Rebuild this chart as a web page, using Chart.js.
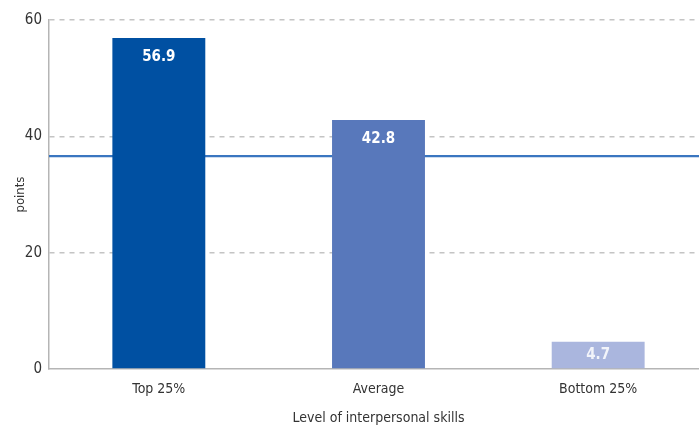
<!DOCTYPE html>
<html>
<head>
<meta charset="utf-8">
<script src="https://cdn.jsdelivr.net/npm/chart.js@4"></script>
<style>
  html, body { margin: 0; padding: 0; background: #fff; overflow: hidden; }
  #wrap { width: 710px; height: 427px; }
</style>
</head>
<body>
<div id="wrap"><canvas id="skills-chart" width="710" height="427"></canvas></div>
<script>
const categories = ['Top 25%', 'Average', 'Bottom 25%'];
const points = [56.9, 42.8, 4.7];
const barColors = ['#0050a2', '#5878bb', '#aab6de'];
const referenceValue = 36.6;
const yTicks = [0, 20, 40, 60];

const FONT = '"Liberation Sans Narrow", "DejaVu Sans Condensed", "Roboto", sans-serif';

// value labels drawn inside the top of each bar
const barLabels = {
    id: 'barLabels',
    afterDatasetsDraw(chart) {
        const ctx = chart.ctx;
        const meta = chart.getDatasetMeta(0);
        ctx.save();
        ctx.font = 'bold 15px ' + FONT;
        ctx.textAlign = 'center';
        ctx.textBaseline = 'middle';
        meta.data.forEach((bar, i) => {
            const y = Math.min(bar.y + 19, (bar.y + bar.base) / 2);
            ctx.fillStyle = i === 2 ? 'rgba(255,255,255,0.85)' : '#ffffff';
            ctx.fillText(points[i].toFixed(1), bar.x, y);
        });
        ctx.restore();
    }
};

// horizontal reference line across the full plot, behind the bars
const refLine = {
    id: 'refLine',
    beforeDatasetsDraw(chart) {
        const { ctx, chartArea, scales } = chart;
        const y = scales.y.getPixelForValue(referenceValue);
        ctx.save();
        ctx.strokeStyle = '#3a76c0';
        ctx.lineWidth = 2.2;
        ctx.beginPath();
        ctx.moveTo(chartArea.left, y);
        ctx.lineTo(chartArea.right, y);
        ctx.stroke();
        ctx.restore();
    }
};

new Chart(document.getElementById('skills-chart'), {
    type: 'bar',
    data: {
        labels: categories,
        datasets: [{
            data: points,
            backgroundColor: barColors,
            borderWidth: 0,
            barPercentage: 0.423,
            categoryPercentage: 1
        }]
    },
    options: {
        responsive: false,
        animation: false,
        layout: { padding: { left: 0, top: 20, right: 2, bottom: 0 } },
        plugins: {
            legend: { display: false },
            tooltip: { enabled: false }
        },
        scales: {
            x: {
                grid: { display: false, drawTicks: false },
                border: { color: '#b5b5b5', width: 1.5 },
                ticks: { color: '#333', padding: 12, font: { family: FONT, size: 14 } },
                title: {
                    display: true,
                    text: 'Level of interpersonal skills',
                    color: '#333',
                    padding: { top: 12, bottom: 0 },
                    font: { family: FONT, size: 14 }
                },
                afterFit(scale) { scale.height = 58; }
            },
            y: {
                min: 0,
                max: 60,
                afterBuildTicks(scale) { scale.ticks = yTicks.map(v => ({ value: v })); },
                grid: {
                    color: ctx => ctx.tick && ctx.tick.value === 0 ? 'rgba(0,0,0,0)' : '#c4c4c4',
                    lineWidth: 1.5,
                    drawTicks: false
                },
                border: { color: '#b5b5b5', width: 1.5, dash: [5, 5] },
                ticks: { color: '#333', padding: 7, font: { family: FONT, size: 15 } },
                title: {
                    display: true,
                    text: 'points',
                    color: '#333',
                    padding: { top: 13, bottom: 0 },
                    font: { family: FONT, size: 13 }
                },
                afterFit(scale) { scale.width = 49; }
            }
        }
    },
    plugins: [barLabels, refLine]
});
</script>
</body>
</html>
